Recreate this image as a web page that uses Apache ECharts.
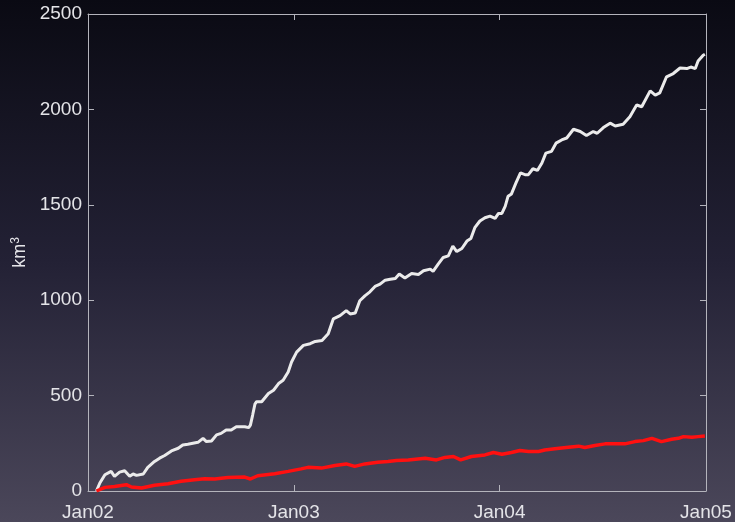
<!DOCTYPE html>
<html>
<head>
<meta charset="utf-8">
<title>Cumulative volume</title>
<script src="https://cdn.jsdelivr.net/npm/echarts@6/dist/echarts.min.js"></script>
<style>
  html, body { margin: 0; padding: 0; background: #0b0b14; }
  #chart { width: 735px; height: 522px; }
</style>
</head>
<body>
<div id="chart"></div>
<script>
// Days counted from 1 Jan 2002; cumulative volume in km^3.
const whiteDays = [15, 21, 30, 41, 47, 56, 65, 74, 80, 86, 98, 106, 118, 127, 136, 148, 160, 168, 177, 186, 195, 204, 210, 219, 228, 236, 245, 254, 263, 278, 285, 288, 292, 296, 299, 308, 320, 329, 338, 346, 355, 361, 370, 382, 394, 403, 415, 426, 435, 447, 458, 465, 474, 482, 491, 500, 509, 518, 527, 536, 545, 552, 562, 574, 586, 595, 607, 612, 621, 630, 639, 647, 654, 663, 672, 679, 686, 695, 704, 713, 722, 728, 734, 740, 745, 751, 759, 767, 775, 781, 789, 797, 805, 812, 822, 830, 840, 849, 861, 873, 884, 896, 903, 914, 926, 935, 949, 961, 973, 982, 997, 1006, 1014, 1026, 1038, 1050, 1062, 1069, 1077, 1082, 1091, 1094];
const whiteKm3 = [0, 42, 85, 103, 77, 99, 106, 77, 89, 82, 89, 124, 155, 172, 186, 210, 224, 241, 245, 250, 255, 276, 259, 262, 294, 302, 320, 320, 337, 337, 332, 345, 398, 455, 468, 468, 511, 528, 563, 580, 624, 676, 728, 763, 772, 784, 789, 824, 902, 919, 945, 928, 933, 997, 1023, 1044, 1072, 1084, 1105, 1110, 1114, 1137, 1116, 1140, 1135, 1154, 1163, 1151, 1189, 1224, 1232, 1284, 1255, 1271, 1310, 1323, 1380, 1415, 1432, 1441, 1429, 1455, 1455, 1493, 1545, 1557, 1615, 1667, 1658, 1658, 1689, 1680, 1719, 1771, 1780, 1823, 1840, 1850, 1896, 1884, 1863, 1884, 1875, 1905, 1928, 1913, 1922, 1962, 2023, 2014, 2097, 2075, 2087, 2171, 2188, 2217, 2214, 2222, 2214, 2254, 2284, 2289];

const redDays = [15, 30, 47, 68, 77, 95, 118, 142, 165, 189, 207, 225, 248, 278, 288, 301, 331, 355, 378, 390, 414, 438, 458, 473, 491, 514, 532, 547, 568, 598, 618, 633, 648, 661, 680, 704, 719, 734, 751, 766, 781, 799, 810, 828, 852, 870, 881, 899, 917, 935, 952, 970, 985, 1000, 1017, 1035, 1047, 1056, 1071, 1082, 1094];
const redKm3 = [0, 19, 24, 33, 21, 16, 30, 38, 51, 59, 64, 63, 71, 73, 63, 80, 90, 103, 116, 124, 120, 134, 142, 129, 142, 151, 155, 160, 163, 172, 163, 176, 181, 163, 181, 189, 202, 193, 202, 212, 207, 207, 215, 221, 229, 235, 228, 238, 247, 247, 247, 259, 264, 276, 259, 271, 276, 285, 282, 285, 288];

// Year boundaries and their labels
const tickDays = [0, 365, 730, 1096];
const tickLabels = ['Jan02', 'Jan03', 'Jan04', 'Jan05'];

const pairs = (xs, ys) => xs.map((x, i) => [x, ys[i]]);
const labelFor = v => {
  const i = tickDays.indexOf(Math.round(v));
  return i >= 0 ? tickLabels[i] : '';
};

const axisColor = '#b4b4bc';
const textColor = '#e4e4e8';
const font = '"Liberation Sans", Arial, Helvetica, sans-serif';

const chart = echarts.init(document.getElementById('chart'), null, { renderer: 'canvas' });

chart.setOption({
  animation: false,
  backgroundColor: new echarts.graphic.LinearGradient(0, 0, 0, 1, [
    { offset: 0, color: '#0a0a13' },
    { offset: 0.5, color: '#232135' },
    { offset: 1, color: '#4b475a' }
  ]),
  grid: { left: 88, right: 29, top: 14, bottom: 29, containLabel: false },
  xAxis: [
    {
      type: 'value', min: 0, max: 1096,
      axisLine: { show: true, lineStyle: { color: axisColor, width: 1 } },
      axisTick: { show: true, inside: true, length: 6, customValues: tickDays, lineStyle: { color: axisColor } },
      axisLabel: { show: true, customValues: tickDays, formatter: labelFor, color: textColor, fontSize: 19, fontFamily: font, margin: 12 },
      splitLine: { show: false }
    },
    {
      type: 'value', min: 0, max: 1096, position: 'top',
      axisLine: { show: true, onZero: false, lineStyle: { color: axisColor, width: 1 } },
      axisTick: { show: true, inside: true, length: 6, customValues: tickDays, lineStyle: { color: axisColor } },
      axisLabel: { show: false },
      splitLine: { show: false }
    }
  ],
  yAxis: [
    {
      type: 'value', min: 0, max: 2500, interval: 500,
      name: '{a|km}{b|3}', nameLocation: 'middle', nameGap: 57, nameRotate: 90,
      nameTextStyle: {
        color: textColor, fontFamily: font,
        rich: {
          a: { color: textColor, fontSize: 18, fontFamily: font },
          b: { color: textColor, fontSize: 12, fontFamily: font, padding: [0, 0, 9, 0] }
        }
      },
      axisLine: { show: true, lineStyle: { color: axisColor, width: 1 } },
      axisTick: { show: true, inside: true, length: 6, lineStyle: { color: axisColor } },
      axisLabel: { color: textColor, fontSize: 19, fontFamily: font, margin: 6, formatter: v => String(v) },
      splitLine: { show: false }
    },
    {
      type: 'value', min: 0, max: 2500, interval: 500, position: 'right',
      axisLine: { show: true, onZero: false, lineStyle: { color: axisColor, width: 1 } },
      axisTick: { show: true, inside: true, length: 6, lineStyle: { color: axisColor } },
      axisLabel: { show: false },
      splitLine: { show: false }
    }
  ],
  series: [
    {
      type: 'line', name: 'total', data: pairs(whiteDays, whiteKm3),
      showSymbol: false, symbol: 'none', smooth: false,
      lineStyle: { color: '#ebebeb', width: 3 }, z: 3
    },
    {
      type: 'line', name: 'red', data: pairs(redDays, redKm3),
      showSymbol: false, symbol: 'none', smooth: false,
      lineStyle: { color: '#ff1010', width: 3.5 }, z: 4
    }
  ]
});
</script>
</body>
</html>
